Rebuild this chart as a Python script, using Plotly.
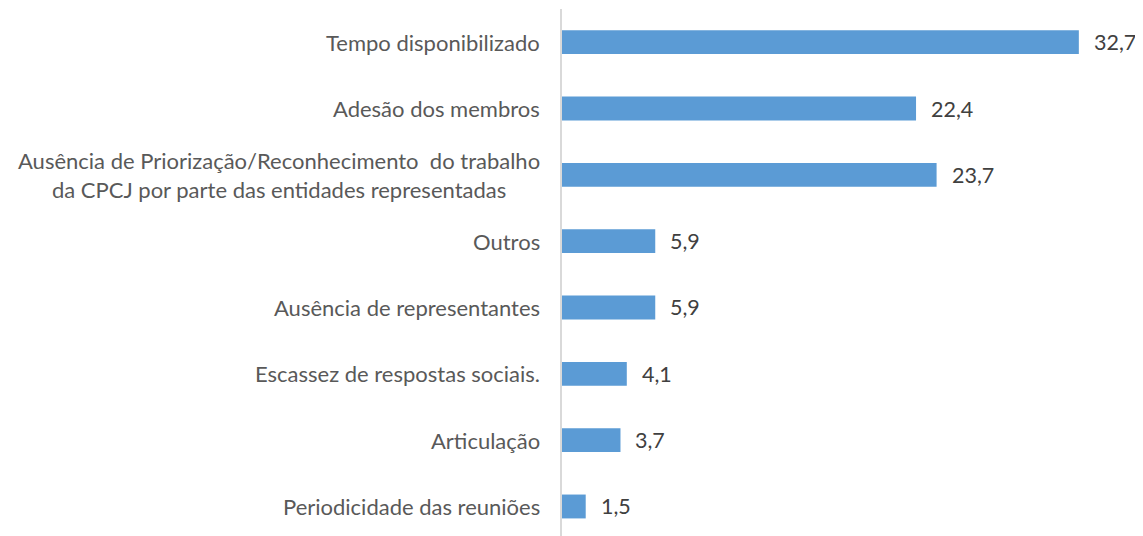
import plotly.graph_objects as go

categories = [
    "Tempo disponibilizado",
    "Adesão dos membros",
    "Ausência de Priorização/Reconhecimento  do trabalho<br>da CPCJ por parte das entidades representadas",
    "Outros",
    "Ausência de representantes",
    "Escassez de respostas sociais.",
    "Articulação",
    "Periodicidade das reuniões",
]
values = [32.7, 22.4, 23.7, 5.9, 5.9, 4.1, 3.7, 1.5]
value_labels = ["32,7", "22,4", "23,7", "5,9", "5,9", "4,1", "3,7", "1,5"]

FONT = "Lato"
fig = go.Figure()
fig.add_trace(go.Bar(
    y=categories, x=values, orientation="h",
    marker=dict(color="#5b9bd5", line=dict(width=0)),
    width=0.36,
    hoverinfo="skip",
))

annotations = []
for c, v, t in zip(categories, values, value_labels):
    annotations.append(dict(x=v, y=c, xref="x", yref="y", text=t, showarrow=False,
                            xanchor="left", xshift=13, font=dict(family=FONT, size=21.5, color="#404040")))
    annotations.append(dict(x=0, y=c, xref="paper", yref="y", text=c, showarrow=False,
                            xanchor="right", xshift=-20, align="center",
                            font=dict(family=FONT, size=22, color="#595959")))

fig.update_layout(
    width=1143, height=536,
    margin=dict(l=554, r=20, t=1, b=8),
    plot_bgcolor="white", paper_bgcolor="white",
    showlegend=False,
    annotations=annotations,
    xaxis=dict(range=[0, 36], showgrid=False, zeroline=False, showticklabels=False,
               showline=False, fixedrange=True),
    yaxis=dict(range=[7.445, -0.5], showgrid=False, zeroline=False, showticklabels=False,
               showline=True, linecolor="#d9d9d9", linewidth=1.5, ticks=""),
)
fig.write_html("out.html")
